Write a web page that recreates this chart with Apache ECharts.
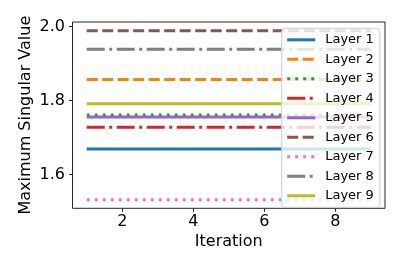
<!DOCTYPE html>
<html><head><meta charset="utf-8">
<script src="https://cdn.jsdelivr.net/npm/echarts@6/dist/echarts.min.js"></script>
<style>html,body{margin:0;padding:0;background:#fff}#c{width:407px;height:271px}</style>
</head><body><div id="c"></div>
<script>
const iterations = [1, 2, 3, 4, 5, 6, 7, 8, 9];
const layerNames = ['Layer 1','Layer 2','Layer 3','Layer 4','Layer 5','Layer 6','Layer 7','Layer 8','Layer 9'];
const layer1 = [1.669,1.669,1.669,1.669,1.669,1.669,1.669,1.669,1.669];
const layer2 = [1.857,1.857,1.857,1.857,1.857,1.857,1.857,1.857,1.857];
const layer3 = [1.761,1.761,1.761,1.761,1.761,1.761,1.761,1.761,1.761];
const layer4 = [1.728,1.728,1.728,1.728,1.728,1.728,1.728,1.728,1.728];
const layer5 = [1.756,1.756,1.756,1.756,1.756,1.756,1.756,1.756,1.756];
const layer6 = [1.989,1.989,1.989,1.989,1.989,1.989,1.989,1.989,1.989];
const layer7 = [1.532,1.532,1.532,1.532,1.532,1.532,1.532,1.532,1.532];
const layer8 = [1.939,1.939,1.939,1.939,1.939,1.939,1.939,1.939,1.939];
const layer9 = [1.792,1.792,1.792,1.792,1.792,1.792,1.792,1.792,1.792];
const xTicks = [2, 4, 6, 8];
const yTicks = [1.6, 1.8, 2.0];

const layers = [layer1,layer2,layer3,layer4,layer5,layer6,layer7,layer8,layer9];
const colors = ['#1f77b4','#ff7f0e','#2ca02c','#d62728','#9467bd','#8c564b','#e377c2','#7f7f7f','#bcbd22'];
const solid = 'solid', dashed = [11,4.5], dotted = [3,5], dashdot = [18,4.5,3,4.5];
const styles = [solid, dashed, dotted, dashdot, solid, dashed, dotted, dashdot, solid];
const font = 'DejaVu Sans';

const chart = echarts.init(document.getElementById('c'), null, {renderer:'canvas'});
chart.setOption({
  animation: false,
  color: colors,
  grid: {left: 72.5, top: 22, right: 22, bottom: 62.7, show: true, borderColor: '#262626', borderWidth: 1, backgroundColor: 'transparent'},
  xAxis: {
    type: 'value', min: 0.6, max: 9.4,
    splitLine: {show: false},
    axisLine: {show: false},
    axisTick: {show: true, length: 3.5, lineStyle: {color: '#262626', width: 1}, customValues: xTicks},
    axisLabel: {customValues: xTicks, color: '#000', fontSize: 16, fontFamily: font, margin: 6},
    name: 'Iteration', nameLocation: 'middle', nameGap: 26, nameMoveOverlap: false,
    nameTextStyle: {color: '#000', fontSize: 16, fontFamily: font}
  },
  yAxis: {
    type: 'value', min: 1.509, max: 2.0127,
    splitLine: {show: false},
    axisLine: {show: false},
    axisTick: {show: true, length: 3.5, lineStyle: {color: '#262626', width: 1}, customValues: yTicks},
    axisLabel: {customValues: yTicks, color: '#000', fontSize: 16, fontFamily: font, margin: 7.5,
      formatter: v => v.toFixed(1)},
    name: 'Maximum Singular Value', nameLocation: 'middle', nameGap: 39, nameMoveOverlap: false,
    nameTextStyle: {color: '#000', fontSize: 16, fontFamily: font}
  },
  legend: {
    orient: 'vertical', left: 281.7, top: 28.3,
    data: layerNames,
    itemWidth: 28, itemHeight: 14, itemGap: 6.5,
    padding: [5, 6, 5, 4],
    backgroundColor: 'rgba(255,255,255,0.8)',
    borderColor: '#cccccc', borderWidth: 1, borderRadius: 3,
    itemStyle: {opacity: 0},
    lineStyle: {width: 3},
    textStyle: {color: '#000', fontSize: 13, fontFamily: font, padding: [0,0,0,5]}
  },
  series: layers.map((arr, i) => ({
    name: layerNames[i], type: 'line', symbol: 'none',
    data: iterations.map((x, j) => [x, arr[j]]),
    lineStyle: {width: 3, type: styles[i], color: colors[i], cap: 'butt'},
    itemStyle: {color: colors[i]}
  }))
});
</script></body></html>
